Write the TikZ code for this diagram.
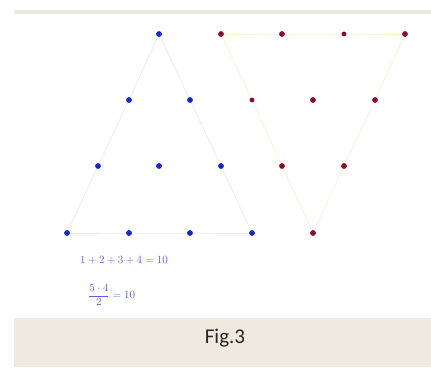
\documentclass[tikz,border=0pt]{standalone}
\usepackage{fontspec}
\usetikzlibrary{backgrounds}
\newfontfamily\figfont{Carlito}
\begin{document}
\begin{tikzpicture}[x=1pt,y=1pt,
  bdot/.style={circle,fill=dotblue,inner sep=0pt,minimum size=5.8pt},
  rdot/.style={circle,fill=dotred,inner sep=0pt,minimum size=5.8pt},
  bedge/.style={draw=edgegray,line width=0.6pt},
  redge/.style={draw=edgeyellow,line width=0.8pt},
  mtext/.style={text=textblue,font=\fontsize{11}{13}\selectfont,inner sep=0pt}]
\definecolor{dotblue}{HTML}{1426C8}
\definecolor{dotred}{HTML}{8A0C2C}
\definecolor{edgegray}{HTML}{E8E8E8}
\definecolor{edgeyellow}{HTML}{FDF0D0}
\definecolor{band}{HTML}{EDEAE0}
\definecolor{textblue}{HTML}{5A5FE6}
\useasboundingbox (0,0) rectangle (431,367);
\fill[band] (14,353) rectangle (431,357);
\fill[band] (14,0) rectangle (431,49);
% blue dots
\node[bdot] (b1) at (159,333) {};
\node[bdot] (b2) at (129,267) {};
\node[bdot] (b3) at (190,267) {};
\node[bdot] (b4) at (98,201) {};
\node[bdot] (b5) at (159,201) {};
\node[bdot] (b6) at (221,201) {};
\node[bdot] (b7) at (67,134) {};
\node[bdot] (b8) at (129,134) {};
\node[bdot] (b9) at (190,134) {};
\node[bdot] (b10) at (252,134) {};
% red dots
\node[rdot] (r1) at (221,333) {};
\node[rdot] (r2) at (282,333) {};
\node[rdot,minimum size=4.8pt] (r3) at (344,333) {};
\node[rdot] (r4) at (405,333) {};
\node[rdot,minimum size=4.8pt] (r5) at (252,267) {};
\node[rdot] (r6) at (313,267) {};
\node[rdot] (r7) at (375,267) {};
\node[rdot] (r8) at (282,201) {};
\node[rdot] (r9) at (344,201) {};
\node[rdot] (r10) at (313,134) {};
% edges
\begin{scope}[on background layer]
\path[bedge] (b1.center) -- (b2.center) -- (b4.center) -- (b7.center);
\path[bedge] (b1.center) -- (b3.center) -- (b6.center) -- (b10.center);
\path[bedge] (b7.center) -- (b8.center) -- (b9.center) -- (b10.center);
\path[redge] (r1.center) -- (r2.center) -- (r3.center) -- (r4.center);
\path[redge] (r1.center) -- (r5.center) -- (r8.center) -- (r10.center);
\path[redge] (r4.center) -- (r7.center) -- (r9.center) -- (r10.center);
\end{scope}
% texts
\node[mtext,anchor=west] (sum) at (80,107) {$1+2+3+4=10$};
\node[mtext,anchor=west] (frac) at (88,72) {$\displaystyle\frac{5\cdot 4}{2}=10$};
\node[font=\figfont\fontsize{21}{24}\selectfont,text=black!85] (fig) at (225,29) {Fig.3};
\end{tikzpicture}
\end{document}
